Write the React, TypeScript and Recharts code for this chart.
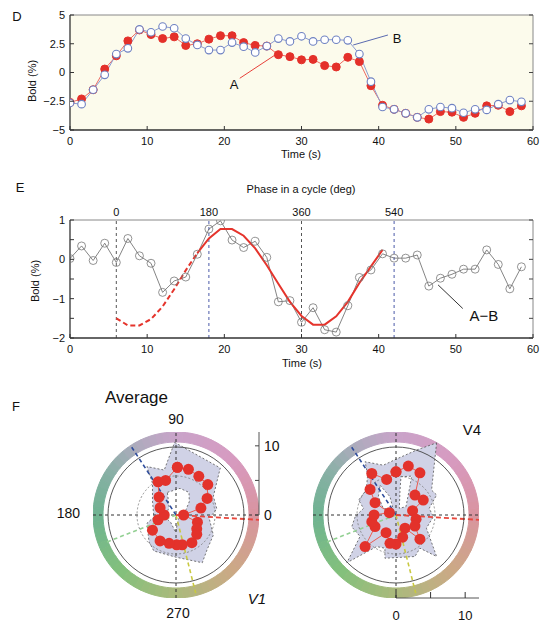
import React from "react";
import {
  LineChart,
  Line,
  XAxis,
  YAxis,
  CartesianGrid,
  ReferenceLine,
  ReferenceDot,
  ScatterChart,
  Scatter,
  PieChart,
  Pie,
  Cell,
} from "recharts";

const FONT = '"Liberation Sans", Arial, Helvetica, sans-serif';

// ---- panel D: BOLD time courses ----
const timeD = [
  0, 1.5, 3, 4.5, 6, 7.5, 9, 10.5, 12, 13.5, 15, 16.5, 18, 19.5, 21, 22.5, 24,
  25.5, 27, 28.5, 30, 31.5, 33, 34.5, 36, 37.5, 39, 40.5, 42, 43.5, 45, 46.5,
  48, 49.5, 51, 52.5, 54, 55.5, 57, 58.5,
];
const boldA = [
  -2.6, -2.3, -1.5, 0.3, 1.45, 2.75, 3.7, 3.3, 2.95, 3.1, 2.35, 2.5, 2.9, 3.2,
  3.2, 2.6, 2.35, 2.3, 1.55, 1.38, 1.1, 1.14, 0.6, 0.48, 1.32, 0.95, -1.15,
  -2.85, -3.2, -3.55, -3.9, -4.05, -3.4, -3.45, -3.9, -3.55, -2.9, -2.85, -3.4,
  -2.9,
];
const boldB = [
  -2.65, -2.75, -1.5, -0.2, 1.6, 2.1, 3.75, 3.5, 4.0, 3.85, 2.95, 2.4, 1.95,
  1.95, 2.6, 2.25, 1.75, 2.3, 2.95, 2.7, 3.15, 2.7, 2.85, 2.85, 2.8, 1.6, -0.8,
  -3.0, -3.2, -3.55, -3.9, -3.2, -3.0, -3.1, -3.5, -3.2, -3.25, -2.75, -2.4,
  -2.55,
];
const timeTicks = [0, 10, 20, 30, 40, 50, 60];
const boldTicksD = [-5, -2.5, 0, 2.5, 5];

// ---- panel E: A-B difference and fitted cycle ----
const diffAB = [
  0.02, 0.34, -0.03, 0.41, -0.08, 0.53, 0.09, -0.1, -0.84, -0.55, -0.45, 0.13,
  0.77, 0.98, 0.49, 0.3, 0.46, 0.05, -1.08, -1.05, -1.6, -1.23, -1.79, -1.85,
  -1.18, -0.46, -0.27, 0.14, 0.03, 0.03, 0.11, -0.68, -0.48, -0.38, -0.25,
  -0.25, 0.24, -0.13, -0.75, -0.19,
];
const fitDashT = [6, 7.5, 9, 10.5, 12, 13.5, 15, 16.5];
const fitDashV = [-1.5, -1.68, -1.68, -1.52, -1.2, -0.76, -0.28, 0.16];
const fitSolidT = [
  16.5, 18, 19.5, 21, 22.5, 24, 25.5, 27, 28.5, 30, 31.5, 33, 34.5, 36, 37.5,
  39, 40.5,
];
const fitSolidV = [
  0.16, 0.53, 0.77, 0.77, 0.6, 0.28, -0.15, -0.62, -1.08, -1.44, -1.66, -1.66,
  -1.45, -1.08, -0.6, -0.18, 0.24,
];
const phaseT = [6, 18, 30, 42];
const phaseDeg = ["0", "180", "360", "540"];
const boldTicksE = [-2, -1.5, -1, -0.5, 0, 0.5, 1];

// ---- panel F: polar plots (units of the radial scale) ----
const v1Dots: [number, number][] = [
  [0.2, 6.9], [1.8, 6.6], [3.3, 5.6], [4.6, 4.4], [4.5, 2.4], [3.6, 1.0],
  [1.1, 0], [3.1, -1.05], [3.0, -2.0], [3.0, -2.8], [2.3, -4.0], [0.9, -4.3],
  [0.1, -4.3], [-1.0, -4.1], [-2.3, -3.75], [-3.4, -2.2], [-2.6, -0.7],
  [-1.7, 0], [-2.3, 1.05], [-2.45, 2.6], [-2.6, 4.8], [-1.5, 5.0],
];
const v1Outer: [number, number][] = [
  [-0.2, 10.5], [6.4, 6.8], [5.4, 2.7], [5.9, 0.9], [4.8, -0.5], [5.4, -2.9],
  [4.5, -5.0], [3.8, -6.9], [0, -6.1], [-3.2, -5.2], [-3.9, -3.9], [-4.2, -1.2],
  [-3.2, -0.3], [-3.4, 2.0], [-3.4, 4.6], [-4.2, 7.0], [-1.7, 6.5],
];
const v1Holes: [number, number][][] = [
  [
    [-1.25, 3.27], [0.58, 3.85], [1.88, 3.27], [1.92, 1.92], [1.44, 0.77],
    [0.77, 0.1], [0.29, -0.72], [-0.05, -2.5], [-0.77, -1.06], [-1.5, -0.38],
    [-1.0, 1.2],
  ],
];
const v4Dots: [number, number][] = [
  [0, 6.25], [1.78, 7.07], [3.46, 6.1], [2.74, 2.88], [3.94, 2.16], [2.4, 0.63],
  [2.9, -0.6], [2.74, -1.6], [3.46, -3.5], [1.3, -1.9], [0.96, -3.2], [0, -4.2],
  [-0.87, -4.1], [-1.44, -2.55], [-4.47, -4.57], [-3.03, -1.68], [-3.5, -0.96],
  [-3.17, 0], [-0.96, 0.34], [-3.03, 1.78], [-3.75, 3.7], [-3.5, 6.0],
  [-1.35, 5.14],
];
const v4Outer: [number, number][] = [
  [5.87, 10.43], [5.14, 3.6], [5.87, 2.9], [4.8, 0.96], [5.4, -0.24],
  [4.4, -1.9], [5.87, -6.0], [3.46, -4.8], [2.74, -6.0], [-1.6, -6.25],
  [-1.6, -4.8], [-2.8, -4.57], [-7.1, -6.9], [-5.2, -3.1], [-6.4, -1.7],
  [-5.9, -0.24], [-4.7, 0.96], [-5.4, 2.16], [-4.3, 3.6], [-4.1, 5.8],
  [-4.47, 7.7], [-1.83, 7.2], [-0.14, 8.0], [3.0, 9.4],
];
const v4Holes: [number, number][][] = [
  [[0.72, 5.53], [2.26, 5.62], [2.0, 4.1], [1.44, 1.2], [0.48, 0.96], [0.58, 3.6]],
  [[-2.3, 4.3], [-0.87, 2.64], [-0.38, 0.72], [-1.83, 0.96], [-2.55, 2.64]],
];
const radialTicks = [0, 5, 10];

// colour circle around the polar plots
const ringStops: [number, string][] = [
  [0, "#d9949f"], [45, "#d79ac0"], [90, "#c9a3c9"], [120, "#aeabbd"],
  [150, "#86b0a4"], [180, "#6fb391"], [225, "#82c07c"], [270, "#abba7c"],
  [315, "#cba985"], [360, "#d9949f"],
];

function hueColor(a: number) {
  let k = 0;
  while (k < ringStops.length - 2 && a > ringStops[k + 1][0]) k++;
  const [a0, c0] = ringStops[k];
  const [a1, c1] = ringStops[k + 1];
  const f = (a - a0) / (a1 - a0);
  const p = (c: string, i: number) => parseInt(c.slice(1 + i * 2, 3 + i * 2), 16);
  const ch = [0, 1, 2].map((i) => Math.round(p(c0, i) + (p(c1, i) - p(c0, i)) * f));
  return `rgb(${ch[0]},${ch[1]},${ch[2]})`;
}
const ringSlices = Array.from({ length: 72 }, (_, i) => ({ v: 1, a: i * 5 + 2.5 }));

const rowsD = timeD.map((t, i) => ({ t, a: boldA[i], b: boldB[i] }));
const diffRows = timeD.map((t, i) => ({ t, v: diffAB[i] }));
const dashRows = fitDashT.map((t, i) => ({ t, v: fitDashV[i] }));
const solidRows = fitSolidT.map((t, i) => ({ t, v: fitSolidV[i] }));
const toXY = (pts: [number, number][]) => pts.map(([x, y]) => ({ x, y }));

const minus = (v: number) => (v < 0 ? "\u2212" + Math.abs(v) : String(v));

// tick marks pointing into the plot, labels outside
function InTick(props: any) {
  const { x, y, payload, side, labelled, size = 11, len = 4, gap = 5 } = props;
  const v = payload.value;
  const show = labelled ? labelled.includes(v) : true;
  const txt = minus(v);
  if (side === "left") {
    return (
      <g>
        <line x1={x + gap} x2={x + gap + len} y1={y} y2={y} stroke="#333" />
        {show && (
          <text x={x} y={y} dy="0.35em" textAnchor="end" fontSize={size} fill="#111">
            {txt}
          </text>
        )}
      </g>
    );
  }
  if (side === "right") {
    return (
      <g>
        <line x1={x - gap} x2={x - gap - len} y1={y} y2={y} stroke="#444" />
        {show && props.withText && (
          <text x={x} y={y} dy="0.35em" textAnchor="start" fontSize={size} fill="#111">
            {txt}
          </text>
        )}
      </g>
    );
  }
  return (
    <g>
      <line x1={x} x2={x} y1={y - gap} y2={y - gap - len} stroke="#333" />
      {show && (
        <text x={x} y={y} dy="0.71em" textAnchor="middle" fontSize={size} fill="#111">
          {txt}
        </text>
      )}
    </g>
  );
}

function Txt({ x, y, text, size = 11, anchor = "middle", rotate = false, italic = false }: any) {
  const tx = anchor === "start" ? "0" : anchor === "end" ? "-100%" : "-50%";
  return (
    <div
      style={{
        position: "absolute",
        left: x,
        top: y,
        fontSize: size,
        lineHeight: 1,
        whiteSpace: "nowrap",
        fontStyle: italic ? "italic" : "normal",
        transform: `translate(${tx},-50%)${rotate ? " rotate(-90deg)" : ""}`,
      }}
    >
      {text}
    </div>
  );
}

function PanelD() {
  return (
    <div style={{ position: "absolute", left: 0, top: 0 }}>
      <LineChart width={544} height={165} data={rowsD} margin={{ top: 15, right: 0, left: 0, bottom: 5 }}>
        <CartesianGrid fill="#fcfbec" horizontal={false} vertical={false} />
        <XAxis
          type="number"
          dataKey="t"
          domain={[0, 60]}
          ticks={timeTicks}
          interval={0}
          height={30}
          allowDataOverflow
          axisLine={{ stroke: "#333", strokeWidth: 1.3 }}
          tickLine={false}
          tickSize={0}
          tickMargin={7}
          tick={<InTick side="bottom" gap={7} />}
        />
        <YAxis
          type="number"
          domain={[-5, 5]}
          ticks={boldTicksD}
          interval={0}
          width={70}
          allowDataOverflow
          axisLine={{ stroke: "#333", strokeWidth: 1.3 }}
          tickLine={false}
          tickSize={0}
          tickMargin={5}
          tick={<InTick side="left" />}
        />
        <YAxis
          yAxisId="r"
          orientation="right"
          type="number"
          domain={[-5, 5]}
          ticks={boldTicksD}
          interval={0}
          width={11}
          allowDataOverflow
          axisLine={false}
          tickLine={false}
          tickSize={0}
          tickMargin={5}
          tick={<InTick side="right" />}
        />
        <ReferenceLine y={5} stroke="#888" />
        <ReferenceLine x={60} stroke="#888" />
        <Line
          dataKey="a"
          stroke="#ee6a62"
          strokeWidth={1}
          dot={{ r: 4, fill: "#e4302a", stroke: "#e4302a", strokeWidth: 1 }}
          isAnimationActive={false}
        />
        <Line
          dataKey="b"
          stroke="#8b9bd2"
          strokeWidth={1}
          dot={{ r: 3.8, fill: "#fff", stroke: "#6f82c2", strokeWidth: 1.1 }}
          isAnimationActive={false}
        />
        <ReferenceLine segment={[{ x: 22.0, y: -0.5 }, { x: 27.2, y: 1.8 }]} stroke="#e8413a" />
        <ReferenceLine segment={[{ x: 36.7, y: 2.39 }, { x: 41.2, y: 3.26 }]} stroke="#5a6ab0" />
      </LineChart>
    </div>
  );
}

function PanelE() {
  return (
    <div style={{ position: "absolute", left: 0, top: 180 }}>
      <LineChart width={544} height={190} margin={{ top: 40, right: 0, left: 0, bottom: 2 }}>
        <XAxis
          type="number"
          dataKey="t"
          domain={[0, 60]}
          ticks={timeTicks}
          interval={0}
          height={30}
          allowDataOverflow
          axisLine={{ stroke: "#333", strokeWidth: 1.3 }}
          tickLine={false}
          tickSize={0}
          tickMargin={7}
          tick={<InTick side="bottom" gap={7} />}
        />
        <YAxis
          type="number"
          dataKey="v"
          domain={[-2, 1]}
          ticks={boldTicksE}
          interval={0}
          width={70}
          allowDataOverflow
          axisLine={{ stroke: "#333", strokeWidth: 1.3 }}
          tickLine={false}
          tickSize={0}
          tickMargin={5}
          tick={<InTick side="left" labelled={[-2, -1, 0, 1]} />}
        />
        <YAxis
          yAxisId="r"
          orientation="right"
          type="number"
          domain={[-2, 1]}
          ticks={boldTicksE}
          interval={0}
          width={11}
          allowDataOverflow
          axisLine={false}
          tickLine={false}
          tickSize={0}
          tickMargin={5}
          tick={<InTick side="right" />}
        />
        <ReferenceLine y={1} stroke="#888" />
        <ReferenceLine x={60} stroke="#888" />
        {phaseT.map((t, i) => (
          <ReferenceLine
            key={t}
            x={t}
            stroke={i % 2 ? "#4a5aa8" : "#555"}
            strokeDasharray="3 3"
            label={{ value: phaseDeg[i], position: "top", fontSize: 11, fill: "#111", offset: 4 }}
          />
        ))}
        <Line
          data={diffRows}
          dataKey="v"
          stroke="#666"
          strokeWidth={0.8}
          dot={{ r: 4, fill: "none", stroke: "#777", strokeWidth: 0.8 }}
          isAnimationActive={false}
        />
        <Line
          data={dashRows}
          dataKey="v"
          stroke="#e5342c"
          strokeWidth={2}
          strokeDasharray="5 3"
          dot={false}
          isAnimationActive={false}
        />
        <Line
          data={solidRows}
          dataKey="v"
          stroke="#e5342c"
          strokeWidth={2}
          dot={false}
          isAnimationActive={false}
        />
        <ReferenceLine segment={[{ x: 47.7, y: -0.65 }, { x: 50.9, y: -1.25 }]} stroke="#333" />
      </LineChart>
    </div>
  );
}

const R = 83; // radial scale: 12 units across R px

function polygonLine(fill: string) {
  return (p: any) => {
    const pts = p.points || [];
    if (!pts.length) return <g />;
    const d = "M" + pts.map((q: any) => `${q.x},${q.y}`).join("L") + "Z";
    return <path d={d} fill={fill} stroke="#555" strokeWidth={0.8} strokeDasharray="2 2" />;
  };
}

function PolarPanel({ cx, cy, dots, outer, holes, axis }: any) {
  const box = { position: "absolute" as const, left: cx - R, top: cy - R };
  const loop = toXY([...dots, dots[0]]);
  const hideX = <XAxis type="number" dataKey="x" domain={[-12, 12]} allowDataOverflow hide />;
  const hideY = <YAxis type="number" dataKey="y" domain={[-12, 12]} allowDataOverflow hide />;
  return (
    <>
      <div style={box}>
        <PieChart width={2 * R} height={2 * R} margin={{ top: 0, right: 0, bottom: 0, left: 0 }}>
          <Pie
            data={ringSlices}
            dataKey="v"
            cx={R}
            cy={R}
            innerRadius={73}
            outerRadius={R}
            startAngle={0}
            endAngle={360}
            isAnimationActive={false}
          >
            {ringSlices.map((s, i) => (
              <Cell key={i} fill={hueColor(s.a)} stroke={hueColor(s.a)} />
            ))}
          </Pie>
        </PieChart>
      </div>
      <div style={box}>
        <ScatterChart width={2 * R} height={2 * R} margin={{ top: 0, right: 0, bottom: 0, left: 0 }}>
          {hideX}
          {hideY}
          <Scatter data={toXY(outer)} shape={() => <g />} line={polygonLine("#d0d2e6")} isAnimationActive={false} />
          {holes.map((h: [number, number][], i: number) => (
            <Scatter key={i} data={toXY(h)} shape={() => <g />} line={polygonLine("#ffffff")} isAnimationActive={false} />
          ))}
        </ScatterChart>
      </div>
      <div style={box}>
        <ScatterChart
          width={2 * R + (axis === "right" ? 40 : 0)}
          height={2 * R + (axis === "bottom" ? 25 : 0)}
          margin={{ top: 0, right: 0, bottom: 0, left: 0 }}
        >
          {axis === "bottom" ? (
            <XAxis
              type="number"
              dataKey="x"
              domain={[-12, 12]}
              allowDataOverflow
              ticks={radialTicks}
              interval={0}
              height={25}
              axisLine={false}
              tickLine={false}
              tickSize={0}
              tickMargin={13}
              tick={<InTick side="bottom" gap={13} len={6} size={13} labelled={[0, 10]} />}
            />
          ) : (
            hideX
          )}
          {axis === "right" ? (
            <YAxis
              type="number"
              dataKey="y"
              orientation="right"
              domain={[-12, 12]}
              allowDataOverflow
              ticks={radialTicks}
              interval={0}
              width={40}
              axisLine={false}
              tickLine={false}
              tickSize={0}
              tickMargin={5}
              tick={<InTick side="right" withText size={14} labelled={[0, 10]} />}
            />
          ) : (
            hideY
          )}
          {axis === "right" ? (
            <ReferenceLine segment={[{ x: 12, y: 0 }, { x: 12, y: 12 }]} stroke="#555" />
          ) : (
            <ReferenceLine segment={[{ x: 0, y: -12 }, { x: 12, y: -12 }]} stroke="#555" />
          )}
          <ReferenceDot x={0} y={0} r={68} fill="none" stroke="#444" strokeWidth={0.9} />
          <ReferenceDot x={0} y={0} r={39} fill="none" stroke="#777" strokeWidth={0.8} strokeDasharray="2 2" />
          <ReferenceLine segment={[{ x: -12, y: 0 }, { x: 12, y: 0 }]} stroke="#333" strokeDasharray="3 3" />
          <ReferenceLine segment={[{ x: 0, y: -12 }, { x: 0, y: 12 }]} stroke="#333" strokeDasharray="3 3" />
          <ReferenceLine segment={[{ x: 0, y: 0 }, { x: -10, y: -3.9 }]} stroke="#93d093" strokeWidth={1.6} strokeDasharray="4 3" />
          <ReferenceLine segment={[{ x: 0, y: 0 }, { x: 2.85, y: -11.3 }]} stroke="#c9c941" strokeWidth={1.6} strokeDasharray="4 3" />
          <ReferenceLine segment={[{ x: 0, y: 0 }, { x: -6.6, y: 10.1 }]} stroke="#2d4c9c" strokeWidth={1.6} strokeDasharray="4 3" />
          <ReferenceLine segment={[{ x: 0, y: 0 }, { x: 12, y: -0.7 }]} stroke="#e8463c" strokeWidth={1.8} strokeDasharray="5 3" />
          <Scatter
            data={loop}
            line={{ stroke: "#ec5a50", strokeWidth: 1 }}
            lineType="joint"
            shape={(p: any) => <circle cx={p.cx} cy={p.cy} r={5.5} fill="#e3322b" />}
            isAnimationActive={false}
          />
        </ScatterChart>
      </div>
    </>
  );
}

export default function App() {
  return (
    <div
      style={{
        position: "absolute",
        left: 0,
        top: 0,
        width: 544,
        height: 623,
        overflow: "hidden",
        background: "#fff",
        color: "#111",
        fontFamily: FONT,
      }}
    >
      <PanelD />
      <PanelE />
      <PolarPanel cx={176} cy={515} dots={v1Dots} outer={v1Outer} holes={v1Holes} axis="right" />
      <PolarPanel cx={396} cy={515} dots={v4Dots} outer={v4Outer} holes={v4Holes} axis="bottom" />

      <Txt x={17} y={16} text="D" size={13} />
      <Txt x={32} y={81} text="Bold (%)" rotate />
      <Txt x={301} y={154} text="Time (s)" />
      <Txt x={234} y={84} text="A" size={13} />
      <Txt x={397} y={38} text="B" size={13} />

      <Txt x={20} y={187} text="E" size={13} />
      <Txt x={301} y={189} text="Phase in a cycle (deg)" />
      <Txt x={35} y={281} text="Bold (%)" rotate />
      <Txt x={302} y={363} text="Time (s)" />
      <Txt x={484} y={315} text={"A\u2212B"} size={15} />

      <Txt x={16} y={406} text="F" size={13} />
      <Txt x={105} y={397} text="Average" size={17} anchor="start" />
      <Txt x={176} y={419} text="90" size={14} />
      <Txt x={80} y={513} text="180" size={14} anchor="end" />
      <Txt x={178} y={613} text="270" size={14} />
      <Txt x={257} y={598} text="V1" size={15} italic />
      <Txt x={472} y={429} text="V4" size={15} />
    </div>
  );
}
